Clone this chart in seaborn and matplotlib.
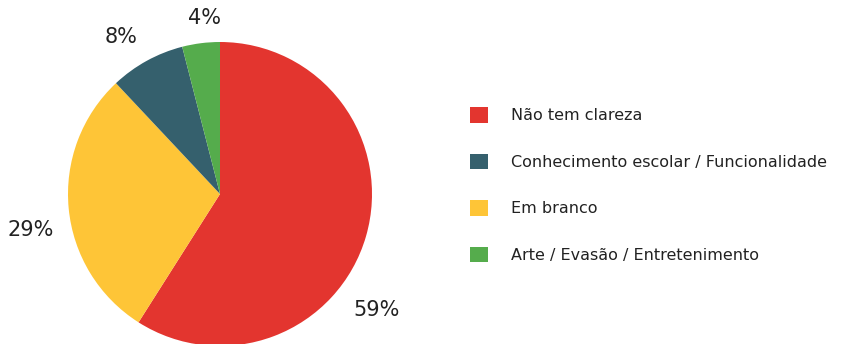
import matplotlib
matplotlib.use("Agg")
import matplotlib.pyplot as plt
import matplotlib.patches as mpatches
import numpy as np
import seaborn as sns

categories = ["Não tem clareza", "Em branco",
              "Conhecimento escolar / Funcionalidade",
              "Arte / Evasão / Entretenimento"]
shares = [59, 29, 8, 4]
legend_order = [0, 2, 1, 3]
colors = ["#E3352F", "#FEC537", "#35606D", "#55AC4C"]

sns.set_theme(style="white")
plt.rcParams["font.family"] = ["DejaVu Sans"]

W, H = 848, 344
fig = plt.figure(figsize=(W / 100, H / 100), dpi=100)
fig.patch.set_facecolor("white")

# pie axes: centre (220, 194) px, radius 152 px
cx, cy, r = 220, 194, 152
ax = fig.add_axes([(cx - r) / W, (H - cy - r) / H, 2 * r / W, 2 * r / H])
wedges, _ = ax.pie(shares, colors=sns.color_palette(colors), startangle=90,
                   counterclock=False, radius=1.0,
                   wedgeprops=dict(linewidth=0))
ax.set_xlim(-1, 1)
ax.set_ylim(-1, 1)
ax.set_aspect("equal")
ax.axis("off")

# percentage labels outside the wedges (angle in degrees, distance in radii)
label_angle = [-36.5, 190.7, 122.4, 94.9]
label_dist = [1.28, 1.27, 1.22, 1.16]
for v, a, d in zip(shares, label_angle, label_dist):
    t = np.deg2rad(a)
    ax.text(d * np.cos(t), d * np.sin(t), f"{v}%", ha="center", va="center",
            fontsize=15, color="#222222", clip_on=False)

handles = [mpatches.Patch(facecolor=colors[i], edgecolor="none") for i in legend_order]
labels = [categories[i] for i in legend_order]
fig.legend(handles, labels, loc="center left",
           bbox_to_anchor=(456 / W, (H - 185) / H),
           frameon=False, fontsize=11.5, handlelength=1.1, handleheight=1.1,
           handletextpad=1.45, labelspacing=1.9, labelcolor="#222222")

fig.savefig("out.png", dpi=100, facecolor="white")
